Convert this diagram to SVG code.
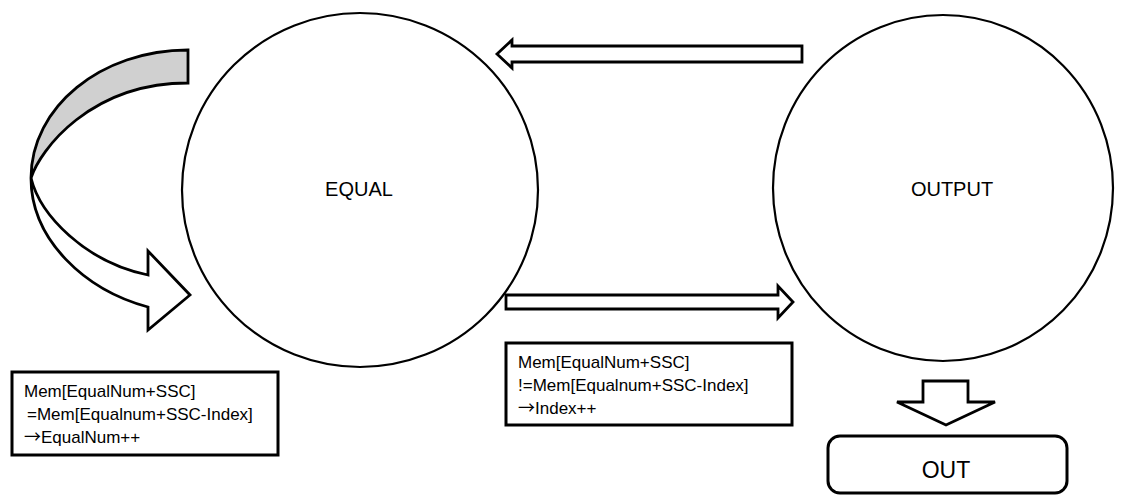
<svg xmlns="http://www.w3.org/2000/svg" width="1122" height="497" viewBox="0 0 1122 497">
  <style>
    .state { fill: #ffffff; stroke: #000000; stroke-width: 2.2; }
    .block { fill: #ffffff; stroke: #000000; stroke-width: 2.8; stroke-linejoin: miter; }
    .back { fill: #d0d0d0; }
    .note { fill: #ffffff; stroke: #000000; stroke-width: 3; }
    .label { font-family: "Liberation Sans", Arial, sans-serif; fill: #000000; }
    .big { font-size: 20px; text-anchor: middle; }
    .small { font-size: 17px; }
    .arrow { font-family: "Noto Sans CJK SC", "DejaVu Sans", sans-serif; }
    .out { font-size: 23px; text-anchor: middle; }
  </style>
  <rect width="1122" height="497" fill="#ffffff"/>

  <!-- state: EQUAL -->
  <g id="equal">
    <ellipse class="state" cx="360" cy="190" rx="178" ry="177"/>
    <text class="label big" x="359" y="196">EQUAL</text>
  </g>

  <!-- state: OUTPUT -->
  <g id="output">
    <ellipse class="state" cx="943" cy="188" rx="170" ry="173"/>
    <text class="label big" x="952" y="196">OUTPUT</text>
  </g>

  <!-- terminal: OUT -->
  <g id="out">
    <rect class="note" x="828" y="436" width="239" height="57" rx="12" ry="12"/>
    <text class="label out" x="946" y="478">OUT</text>
  </g>

  <!-- condition for staying in EQUAL -->
  <g id="note-equal">
    <rect class="note" x="12" y="372" width="266" height="83"/>
    <text class="label small" x="24" y="397">Mem[EqualNum+SSC]</text>
    <text class="label small" x="27" y="420">=Mem[Equalnum+SSC-Index]</text>
    <text class="label small" x="24" y="443"><tspan class="arrow">→</tspan>EqualNum++</text>
  </g>

  <!-- condition for EQUAL to OUTPUT -->
  <g id="note-output">
    <rect class="note" x="506" y="343" width="286" height="82"/>
    <text class="label small" x="518" y="368">Mem[EqualNum+SSC]</text>
    <text class="label small" x="518" y="391">!=Mem[Equalnum+SSC-Index]</text>
    <text class="label small" x="518" y="414"><tspan class="arrow">→</tspan>Index++</text>
  </g>

  <!-- block arrows between states -->
  <g id="connectors">
    <!-- self loop on EQUAL: shaded back face, then front face with head -->
    <path class="block back" d="M188,50 C101,50 31,107 31,178 C40,150 90,83 188,83 Z"/>
    <path class="block" d="M31,178 C31,240 85,290 148,307 L148,330 L190,295 L148,251 L148,275 C85,262 40,215 31,178 Z"/>

    <!-- OUTPUT back to EQUAL -->
    <path class="block" d="M802,46 L512,46 L512,40 L497,54 L512,68 L512,62 L802,62 Z"/>

    <!-- EQUAL to OUTPUT -->
    <path class="block" d="M506,295 L778,295 L778,286 L793,302 L778,318 L778,309 L506,309 Z"/>

    <!-- OUTPUT to OUT -->
    <path class="block" d="M923,381 L968,381 L968,402 L995,402 L946,425 L897,402 L923,402 Z"/>
  </g>
</svg>
